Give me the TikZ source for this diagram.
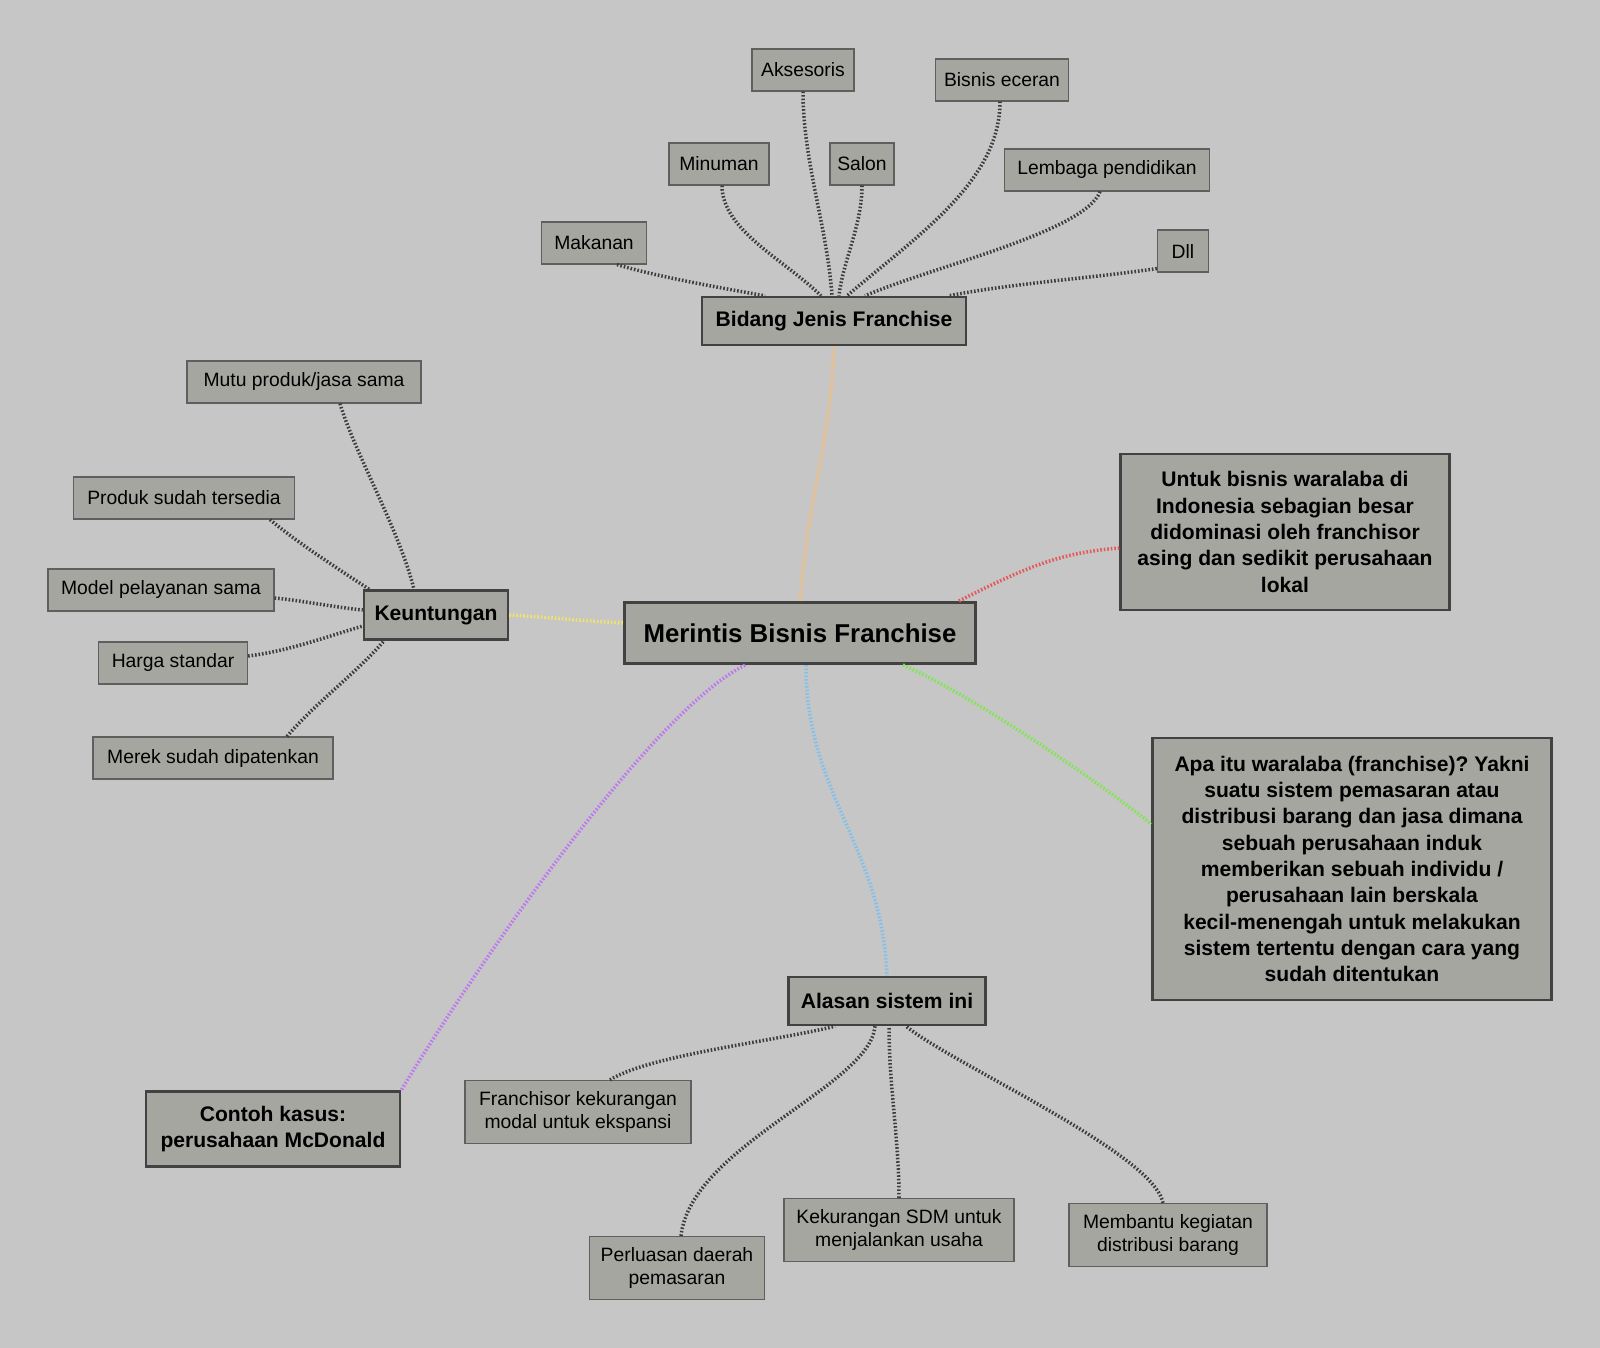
\documentclass[tikz,border=0pt]{standalone}
\usepackage{fontspec}
\setmainfont{Liberation Sans}
\frenchspacing
\definecolor{canvas}{RGB}{198,198,198}
\definecolor{boxgray}{RGB}{166,166,161}
\definecolor{edgegray}{RGB}{66,66,66}
\definecolor{leafedge}{RGB}{95,95,95}
\definecolor{linkgray}{RGB}{60,60,60}
\definecolor{orangeline}{RGB}{246,190,120}
\definecolor{yellowline}{RGB}{242,226,110}
\definecolor{redline}{RGB}{228,88,88}
\definecolor{greenline}{RGB}{128,230,80}
\definecolor{blueline}{RGB}{128,192,236}
\definecolor{purpleline}{RGB}{190,118,242}
\tikzset{
  mbox/.style    = {rectangle, fill=boxgray, draw=edgegray, line width=1.4pt,
                    align=center, inner sep=3pt,
                    font=\fontsize{12}{15}\selectfont\bfseries},
  mcenter/.style = {mbox, line width=1.8pt,
                    font=\fontsize{14.7}{18}\selectfont\bfseries},
  % Leaves: thin border, regular weight.
  mleaf/.style   = {mbox, draw=leafedge, line width=0.7pt, minimum height=0.84cm,
                    font=\fontsize{11}{12.8}\selectfont},
  mleaftwo/.style = {mleaf, minimum height=1.26cm},
  link/.style    = {line width=2pt, dash pattern=on 0.9pt off 1.1pt},
  leaflink/.style = {link, draw=linkgray},
}

\begin{document}
\begin{tikzpicture}[x=0.02cm, y=-0.02cm]

    \fill[canvas] (0,0) rectangle (1600,1348);

    \node[mcenter, minimum width=7.02cm, minimum height=1.22cm] (root) at (800,633) {Merintis Bisnis Franchise};

    \node[mbox, minimum width=5.28cm, minimum height=0.96cm] (jenis) at (834,321) {Bidang Jenis Franchise};
    \node[mbox, minimum width=2.88cm, minimum height=0.98cm] (untung) at (436,615) {Keuntungan};
    \node[mbox, minimum width=3.94cm, minimum height=0.96cm] (alasan) at (887,1001) {Alasan sistem ini};
    \node[mbox, minimum width=5.08cm, minimum height=1.5cm] (contoh) at (273,1129) {Contoh kasus:\\perusahaan McDonald};
    \node[mbox, minimum width=6.58cm, minimum height=3.12cm] (dominasi) at (1285,532)
      {Untuk bisnis waralaba di\\Indonesia sebagian besar\\didominasi oleh franchisor\\asing dan sedikit perusahaan\\lokal};
    \node[mbox, minimum width=7.98cm, minimum height=5.24cm] (definisi) at (1352,869)
      {Apa itu waralaba (franchise)? Yakni\\suatu sistem pemasaran atau\\distribusi barang dan jasa dimana\\sebuah perusahaan induk\\memberikan sebuah individu /\\perusahaan lain berskala\\kecil-menengah untuk melakukan\\sistem tertentu dengan cara yang\\sudah ditentukan};

    \node[mleaf, minimum width=2.04cm] (aksesoris) at (803,70) {Aksesoris};
    \node[mleaf, minimum width=2.66cm] (eceran) at (1002,80) {Bisnis eceran};
    \node[mleaf, minimum width=2.0cm] (minuman) at (719,164) {Minuman};
    \node[mleaf, minimum width=1.28cm] (salon) at (862,164) {Salon};
    \node[mleaf, minimum width=4.1cm] (lembaga) at (1107,170) {Lembaga pendidikan};
    \node[mleaf, minimum width=2.1cm] (makanan) at (594,243) {Makanan};
    \node[mleaf, minimum width=1.02cm] (dll) at (1183,251) {Dll};

    \node[mleaf, minimum width=4.68cm] (mutu) at (304,382) {Mutu produk/jasa sama};
    \node[mleaf, minimum width=4.42cm] (tersedia) at (184,498) {Produk sudah tersedia};
    \node[mleaf, minimum width=4.52cm] (pelayanan) at (161,590) {Model pelayanan sama};
    \node[mleaf, minimum width=2.98cm] (harga) at (173,663) {Harga standar};
    \node[mleaf, minimum width=4.8cm] (merek) at (213,758) {Merek sudah dipatenkan};

    \node[mleaftwo, minimum width=4.52cm] (modal) at (578,1112) {Franchisor kekurangan\\modal untuk ekspansi};
    \node[mleaftwo, minimum width=3.5cm] (perluasan) at (677,1268) {Perluasan daerah\\pemasaran};
    \node[mleaftwo, minimum width=4.6cm] (sdm) at (899,1230) {Kekurangan SDM untuk\\menjalankan usaha};
    \node[mleaftwo, minimum width=3.96cm] (distribusi) at (1168,1235) {Membantu kegiatan\\distribusi barang};

    % main branches
    \draw[link, draw=orangeline] (root.north) .. controls +(10,-120) and +(-5,110) .. (jenis.south);
    \draw[link, draw=yellowline] (untung.east) .. controls +(40,2) and +(-40,-2) .. ([yshift=0.2cm]root.west);
    \draw[link, draw=redline] ([xshift=3.18cm]root.north) .. controls +(70,-35) and +(-60,5) .. ([yshift=-0.32cm]dominasi.west);
    \draw[link, draw=greenline] ([xshift=2.06cm]root.south) .. controls +(70,30) and +(-50,-40) .. ([yshift=0.9cm]definisi.west);
    \draw[link, draw=blueline] ([xshift=0.12cm]root.south) .. controls +(0,130) and +(-5,-130) .. (alasan.north);
    \draw[link, draw=purpleline] ([xshift=-1.1cm]root.south) .. controls +(-100,50) and +(60,-100) .. (contoh.north east);

    % Bidang Jenis Franchise
    \draw[leaflink] ([xshift=0.46cm]makanan.south) .. controls +(40,12) and +(-45,-8) .. ([xshift=-1.38cm]jenis.north);
    \draw[leaflink] ([xshift=0.06cm]minuman.south) .. controls +(0,45) and +(-35,-35) .. ([xshift=-0.26cm]jenis.north);
    \draw[leaflink] (aksesoris.south) .. controls +(0,70) and +(-5,-70) .. ([xshift=-0.04cm]jenis.north);
    \draw[leaflink] (salon.south) .. controls +(0,40) and +(4,-35) .. ([xshift=0.1cm]jenis.north);
    \draw[leaflink] ([xshift=-0.04cm]eceran.south) .. controls +(0,80) and +(70,-60) .. ([xshift=0.26cm]jenis.north);
    \draw[leaflink] ([xshift=-0.14cm]lembaga.south) .. controls +(-15,40) and +(70,-30) .. ([xshift=0.62cm]jenis.north);
    \draw[leaflink] ([yshift=0.08cm]dll.south west) .. controls +(-70,10) and +(60,-12) .. ([xshift=2.3cm]jenis.north);

    % Keuntungan
    \draw[leaflink] ([xshift=0.72cm]mutu.south) .. controls +(15,50) and +(-15,-60) .. ([xshift=-0.44cm]untung.north);
    \draw[leaflink] ([xshift=1.72cm]tersedia.south) .. controls +(30,25) and +(-30,-20) .. ([xshift=-1.34cm]untung.north);
    \draw[leaflink] ([yshift=-0.16cm]pelayanan.east) .. controls +(30,3) and +(-30,-3) .. ([yshift=0.1cm]untung.west);
    \draw[leaflink] ([yshift=0.14cm]harga.east) .. controls +(40,-5) and +(-40,12) .. ([yshift=-0.22cm]untung.west);
    \draw[leaflink] ([xshift=1.48cm]merek.north) .. controls +(30,-35) and +(-25,30) .. ([xshift=-1.04cm]untung.south);

    % Alasan sistem ini
    \draw[leaflink] ([xshift=0.64cm]modal.north) .. controls +(40,-25) and +(-60,15) .. ([xshift=-1.04cm]alasan.south);
    \draw[leaflink] ([xshift=0.08cm]perluasan.north) .. controls +(10,-90) and +(-5,60) .. ([xshift=-0.24cm]alasan.south);
    \draw[leaflink] (sdm.north) .. controls +(0,-60) and +(0,60) .. ([xshift=0.04cm]alasan.south);
    \draw[leaflink] ([xshift=-0.1cm]distribusi.north) .. controls +(-10,-50) and +(50,40) .. ([xshift=0.38cm]alasan.south);
  \end{tikzpicture}
\end{document}
